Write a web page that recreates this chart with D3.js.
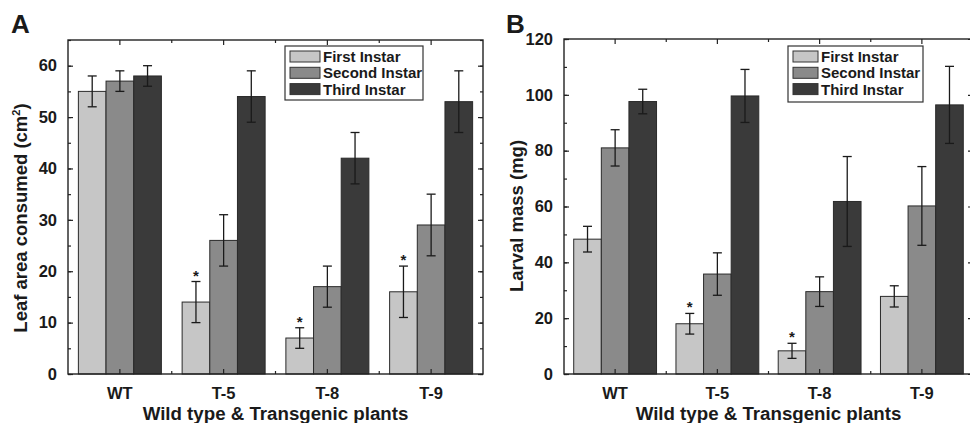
<!DOCTYPE html>
<html>
<head>
<meta charset="utf-8">
<script src="https://cdn.jsdelivr.net/npm/d3@7/dist/d3.min.js"></script>
<style>
  html, body { margin: 0; padding: 0; background: #fff; }
  svg { display: block; }
  text { font-family: "Liberation Sans", Arial, sans-serif; font-weight: bold; fill: #1a1a1a; }
</style>
</head>
<body>
<svg id="chart" width="970" height="423"></svg>
<script>
// ---------- Data ----------
const categories = ["WT", "T-5", "T-8", "T-9"];
const seriesNames = ["First Instar", "Second Instar", "Third Instar"];
const seriesColors = ["#c6c6c6", "#8a8a8a", "#3a3a3a"];

// Panel A: Leaf area consumed (cm2)
const leafFirst = [55, 14, 7, 16];
const leafFirstErr = [3, 4, 2, 5];
const leafSecond = [57, 26, 17, 29];
const leafSecondErr = [2, 5, 4, 6];
const leafThird = [58, 54, 42, 53];
const leafThirdErr = [2, 5, 5, 6];
const leafSigFirst = [false, true, true, true];

// Panel B: Larval mass (mg)
const massFirst = [48.3, 18, 8.3, 27.8];
const massFirstErr = [4.6, 3.7, 2.7, 3.8];
const massSecond = [81, 35.8, 29.5, 60.2];
const massSecondErr = [6.5, 7.6, 5.3, 14.1];
const massThird = [97.6, 99.6, 61.8, 96.4];
const massThirdErr = [4.4, 9.5, 16.1, 13.8];
const massSigFirst = [false, true, true, false];

const leafTicks = [0, 10, 20, 30, 40, 50, 60];
const massTicks = [0, 20, 40, 60, 80, 100, 120];

const svg = d3.select("#chart");

function buildRows(vals, errs, sigs) {
  const rows = [];
  categories.forEach((c, i) => {
    seriesNames.forEach((s, j) => {
      rows.push({ cat: c, ser: s, si: j, v: vals[j][i], e: errs[j][i], sig: sigs[j][i] });
    });
  });
  return rows;
}

function panel(cfg) {
  const g = svg.append("g");
  const x = d3.scaleBand().domain(categories).range([cfg.left, cfg.right])
    .paddingInner(cfg.pad).paddingOuter(cfg.pad / 2);
  const xs = d3.scaleBand().domain(seriesNames).range([0, x.bandwidth()]);
  const y = d3.scaleLinear().domain(cfg.yDomain).range([cfg.bottom, cfg.top]);

  const rows = buildRows(cfg.vals, cfg.errs, cfg.sigs);

  // bars
  g.selectAll("rect.bar").data(rows).enter().append("rect")
    .attr("class", "bar")
    .attr("x", d => x(d.cat) + xs(d.ser))
    .attr("y", d => y(d.v))
    .attr("width", xs.bandwidth())
    .attr("height", d => y(0) - y(d.v))
    .attr("fill", d => seriesColors[d.si])
    .attr("stroke", "#2a2a2a")
    .attr("stroke-width", 1);

  // error bars
  const eg = g.selectAll("g.err").data(rows).enter().append("g").attr("class", "err");
  const cx = d => x(d.cat) + xs(d.ser) + xs.bandwidth() / 2;
  const capW = 4.5;
  eg.append("line").attr("x1", cx).attr("x2", cx)
    .attr("y1", d => y(d.v + d.e)).attr("y2", d => y(d.v - d.e));
  eg.append("line").attr("x1", d => cx(d) - capW).attr("x2", d => cx(d) + capW)
    .attr("y1", d => y(d.v + d.e)).attr("y2", d => y(d.v + d.e));
  eg.append("line").attr("x1", d => cx(d) - capW).attr("x2", d => cx(d) + capW)
    .attr("y1", d => y(d.v - d.e)).attr("y2", d => y(d.v - d.e));
  eg.selectAll("line").attr("stroke", "#1a1a1a").attr("stroke-width", 1.3);

  // significance asterisks
  g.selectAll("text.sig").data(rows.filter(d => d.sig)).enter().append("text")
    .attr("class", "sig")
    .attr("x", cx)
    .attr("y", d => y(d.v + d.e) - 1)
    .attr("text-anchor", "middle")
    .style("font-size", "15px")
    .text("*");

  // axes (ticks inward)
  const tickLen = 5;
  const minorY = d3.range(cfg.yDomain[0], cfg.yDomain[1] + 0.001, cfg.minorStep)
    .filter(v => v <= cfg.yMaxTick);
  const axL = d3.axisLeft(y).tickValues(cfg.ticks).tickSizeInner(-tickLen).tickSizeOuter(0).tickPadding(tickLen + 6);
  const axR = d3.axisRight(y).tickValues(cfg.ticks).tickSizeInner(-tickLen).tickSizeOuter(0).tickFormat("");
  const axLm = d3.axisLeft(y).tickValues(minorY).tickSizeInner(-3).tickSizeOuter(0).tickFormat("");
  const axRm = d3.axisRight(y).tickValues(minorY).tickSizeInner(-3).tickSizeOuter(0).tickFormat("");
  const axB = d3.axisBottom(x).tickSizeInner(-tickLen).tickSizeOuter(0).tickPadding(tickLen + 8);
  const axT = d3.axisTop(x).tickSizeInner(-tickLen).tickSizeOuter(0).tickFormat("");

  const gl = g.append("g").attr("transform", `translate(${cfg.left},0)`).call(axL);
  g.append("g").attr("transform", `translate(${cfg.left},0)`).call(axLm);
  g.append("g").attr("transform", `translate(${cfg.right},0)`).call(axR);
  g.append("g").attr("transform", `translate(${cfg.right},0)`).call(axRm);
  const gb = g.append("g").attr("transform", `translate(0,${cfg.bottom})`).call(axB);
  g.append("g").attr("transform", `translate(0,${cfg.top})`).call(axT);

  // minor x ticks at category boundaries
  const bounds = categories.slice(1).map(c => x(c) - x.step() * cfg.pad / 2);
  g.selectAll("line.xminB").data(bounds).enter().append("line")
    .attr("x1", d => d).attr("x2", d => d)
    .attr("y1", cfg.bottom).attr("y2", cfg.bottom - 3);
  g.selectAll("line.xminT").data(bounds).enter().append("line")
    .attr("x1", d => d).attr("x2", d => d)
    .attr("y1", cfg.top).attr("y2", cfg.top + 3);

  g.selectAll("line").filter(function() { return !this.closest(".err"); })
    .attr("stroke", "#222").attr("stroke-width", 1.2);
  g.selectAll(".domain").remove();
  gl.selectAll("text").style("font-size", "16.5px").attr("fill", "#1a1a1a").style("font-family", "Liberation Sans, Arial, sans-serif");
  gb.selectAll("text").style("font-size", "16.5px").attr("fill", "#1a1a1a").style("font-family", "Liberation Sans, Arial, sans-serif");

  // frame
  g.append("rect").attr("x", cfg.left).attr("y", cfg.top)
    .attr("width", cfg.right - cfg.left).attr("height", cfg.bottom - cfg.top)
    .attr("fill", "none").attr("stroke", "#222").attr("stroke-width", 1.4);

  // titles
  g.append("text").attr("x", (cfg.left + cfg.right) / 2).attr("y", 420)
    .attr("text-anchor", "middle").style("font-size", "18.7px")
    .text("Wild type & Transgenic plants");
  const yt = g.append("text")
    .attr("transform", `translate(${cfg.yTitleX},${cfg.yTitleY}) rotate(-90)`)
    .attr("text-anchor", "middle").style("font-size", "18.5px");
  yt.append("tspan").text(cfg.yTitle);
  if (cfg.yTitleSup) {
    yt.append("tspan").attr("dy", -7).style("font-size", "11px").text(cfg.yTitleSup);
    yt.append("tspan").attr("dy", 7).text(")");
  }
  g.append("text").attr("x", cfg.letterX).attr("y", 33).style("font-size", "26px").text(cfg.letter);

  // legend
  const lg = g.append("g");
  lg.append("rect").attr("x", cfg.legX).attr("y", cfg.legY).attr("width", cfg.legW).attr("height", cfg.legH)
    .attr("fill", "#fff").attr("stroke", "#333").attr("stroke-width", 1.2);
  seriesNames.forEach((s, j) => {
    const ry = cfg.legY + 5 + j * 16.3;
    lg.append("rect").attr("x", cfg.legX + 5).attr("y", ry).attr("width", cfg.swW).attr("height", 11)
      .attr("fill", seriesColors[j]).attr("stroke", "#333").attr("stroke-width", 1);
    lg.append("text").attr("x", cfg.legX + 8 + cfg.swW).attr("y", ry + 11)
      .style("font-size", "15px").text(s);
  });
}

panel({
  left: 68, right: 483, top: 40, bottom: 374, pad: 0.2,
  yDomain: [0, 65], ticks: leafTicks, minorStep: 5, yMaxTick: 65,
  vals: [leafFirst, leafSecond, leafThird],
  errs: [leafFirstErr, leafSecondErr, leafThirdErr],
  sigs: [leafSigFirst, [false, false, false, false], [false, false, false, false]],
  yTitle: "Leaf area consumed (cm", yTitleSup: "2", yTitleX: 27, yTitleY: 218,
  letter: "A", letterX: 11,
  legX: 285, legY: 46, legW: 138, legH: 54, swW: 30
});

panel({
  left: 564, right: 973, top: 39, bottom: 374, pad: 0.19,
  yDomain: [0, 120], ticks: massTicks, minorStep: 10, yMaxTick: 120,
  vals: [massFirst, massSecond, massThird],
  errs: [massFirstErr, massSecondErr, massThirdErr],
  sigs: [massSigFirst, [false, false, false, false], [false, false, false, false]],
  yTitle: "Larval mass (mg)", yTitleSup: null, yTitleX: 523, yTitleY: 216,
  letter: "B", letterX: 506,
  legX: 788, legY: 46, legW: 135, legH: 56, swW: 25
});
</script>
</body>
</html>
